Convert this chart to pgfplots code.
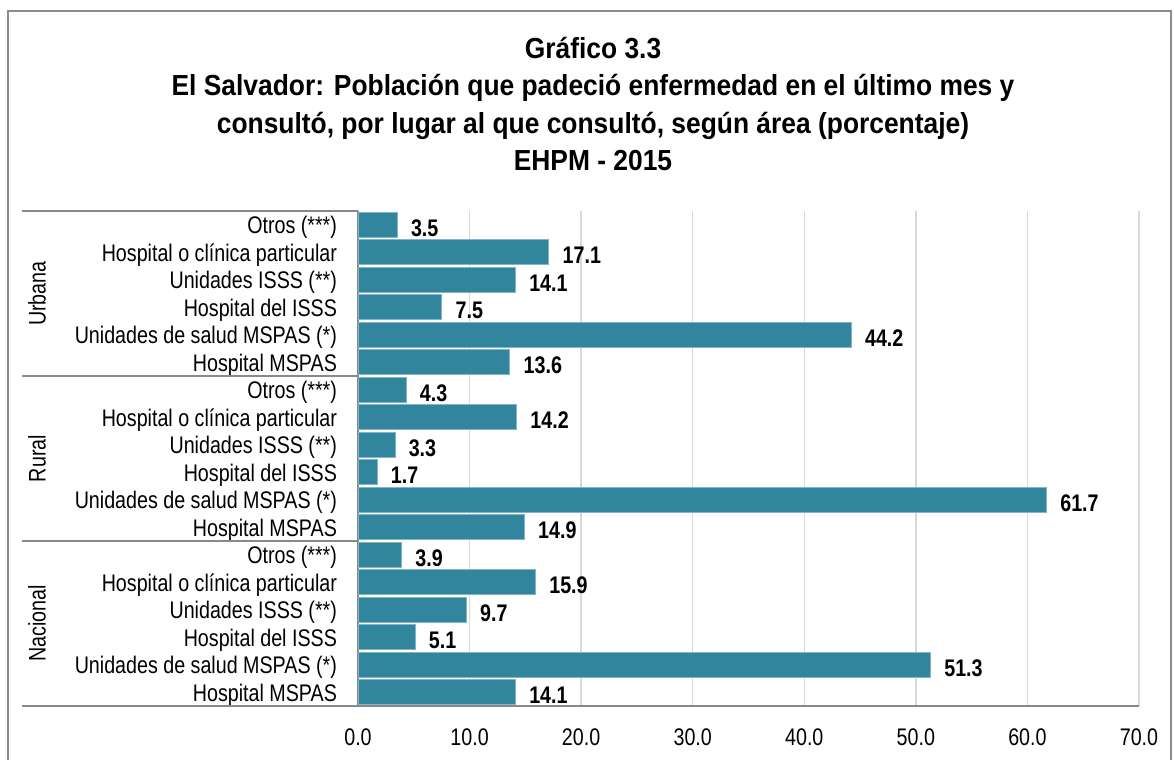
\documentclass[border=0pt]{standalone}
\usepackage{pgfplots}
\pgfplotsset{compat=1.18}
\usepackage{fontspec}
\setmainfont[FakeStretch=0.82]{Liberation Sans}
\newfontfamily\titlefont[FakeStretch=0.91]{Liberation Sans}
\definecolor{barc}{RGB}{49,133,156}
\definecolor{gridc}{RGB}{217,217,217}
\definecolor{axisc}{RGB}{137,137,137}
\definecolor{framec}{RGB}{140,140,140}
\begin{document}
\begin{tikzpicture}
\path[use as bounding box] (0pt,0pt) rectangle (587pt,-380pt);
\draw[framec, line width=1pt] (3.75pt,-390pt) -- (3.75pt,-5.5pt) -- (585.5pt,-5.5pt) -- (585.5pt,-390pt);
\begin{scope}[every node/.style={font=\titlefont\fontsize{14.5}{16}\bfseries\selectfont, anchor=base}]
\node at (296.5pt,-29pt) {Gráfico 3.3};
\node at (296.5pt,-47.75pt) {El Salvador: Población que padeció enfermedad en el último mes y};
\node at (296.5pt,-66.5pt) {consultó, por lugar al que consultó, según área (porcentaje)};
\node at (296.5pt,-85.25pt) {EHPM - 2015};
\end{scope}
\begin{axis}[
  at={(179pt,-353pt)}, anchor=south west,
  scale only axis, width=390.5pt, height=247.5pt,
  xmin=0, xmax=70, ymin=0.5, ymax=18.5, y dir=reverse,
  xbar, bar width=12.5pt,
  axis x line*=bottom, axis y line*=left,
  axis line style={draw=axisc, line width=0.8pt, -},
  xtick={0,10,...,70},
  xmajorgrids, grid style={draw=gridc, line width=0.7pt},
  major tick length=0pt,
  /pgf/number format/assume math mode=true,
  xticklabel={\pgfmathprintnumber[fixed,fixed zerofill,precision=1]{\tick}},
  xticklabel style={yshift=-7.75pt},
  ytick={1,...,18},
  yticklabels={Otros (***),Hospital o clínica particular,Unidades ISSS (**),Hospital del ISSS,Unidades de salud MSPAS (*),Hospital MSPAS,
               Otros (***),Hospital o clínica particular,Unidades ISSS (**),Hospital del ISSS,Unidades de salud MSPAS (*),Hospital MSPAS,
               Otros (***),Hospital o clínica particular,Unidades ISSS (**),Hospital del ISSS,Unidades de salud MSPAS (*),Hospital MSPAS},
  yticklabel style={xshift=-7pt, yshift=-1.5pt},
  tick label style={font=\fontsize{12}{14}\selectfont},
  nodes near coords={\pgfmathprintnumber[fixed,fixed zerofill,precision=1]{\pgfplotspointmeta}},
  point meta=x,
  nodes near coords style={anchor=west, xshift=3.5pt, yshift=-1.5pt, font=\fontsize{12}{14}\bfseries\selectfont},
  clip=false,
]
\addplot[fill=barc, draw=barc!60!white, line width=0.3pt] coordinates {
(3.5,1) (17.1,2) (14.1,3) (7.5,4) (44.2,5) (13.6,6)
(4.3,7) (14.2,8) (3.3,9) (1.7,10) (61.7,11) (14.9,12)
(3.9,13) (15.9,14) (9.7,15) (5.1,16) (51.3,17) (14.1,18)
};
\end{axis}
\begin{scope}[axisc, line width=0.8pt]
\draw (11pt,-105.5pt) -- (179pt,-105.5pt);
\draw (11pt,-188pt) -- (179pt,-188pt);
\draw (11pt,-270.5pt) -- (179pt,-270.5pt);
\draw (11pt,-353pt) -- (179pt,-353pt);
\end{scope}
\begin{scope}[every node/.style={font=\fontsize{12}{14}\selectfont, rotate=90, anchor=center}]
\node at (18.5pt,-146.75pt) {Urbana};
\node at (18.5pt,-229.25pt) {Rural};
\node at (18.5pt,-311.75pt) {Nacional};
\end{scope}
\end{tikzpicture}
\end{document}
